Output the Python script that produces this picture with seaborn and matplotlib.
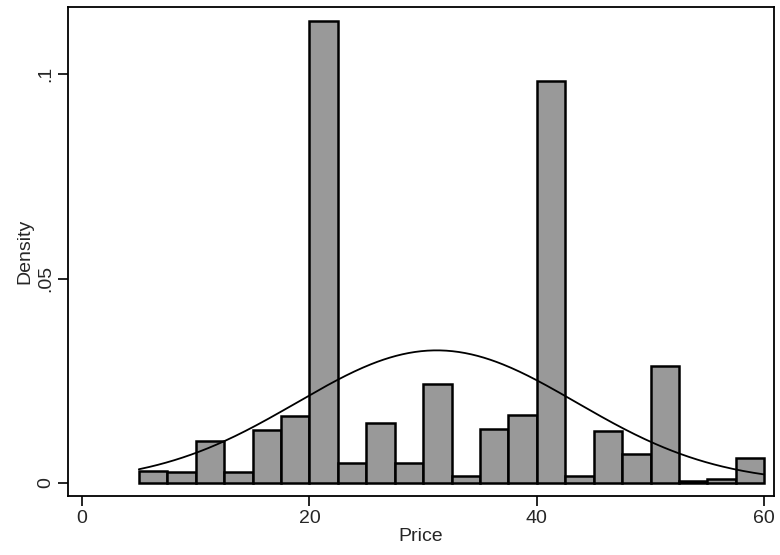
import numpy as np
import pandas as pd
import matplotlib
matplotlib.use("Agg")
import matplotlib.pyplot as plt
import seaborn as sns

# Histogram: bin edges and bar heights (density)
bin_edges = [5.0, 7.5, 10.0, 12.5, 15.0, 17.5, 20.0, 22.5, 25.0, 27.5, 30.0,
             32.5, 35.0, 37.5, 40.0, 42.5, 45.0, 47.5, 50.0, 52.5, 55.0, 57.5, 60.0]
density = [0.0029, 0.0027, 0.0103, 0.0027, 0.0130, 0.0164, 0.1130, 0.0049,
           0.0147, 0.0049, 0.0242, 0.0017, 0.0132, 0.0166, 0.0983, 0.0017,
           0.0127, 0.0071, 0.0286, 0.0005, 0.0010, 0.0061]
# Fitted normal curve parameters
norm_mean = 31.2
norm_sd = 12.3
curve_range = [5.0, 60.0]

x_ticks = [0, 20, 40, 60]
x_ticklabels = ["0", "20", "40", "60"]
y_ticks = [0, 0.05, 0.1]
y_ticklabels = ["0", ".05", ".1"]

sns.set_style("white")
plt.rcParams["font.family"] = ["Liberation Sans", "DejaVu Sans"]

fig = plt.figure(figsize=(7.8, 5.55), dpi=100)
ax = fig.add_axes([68/780, 59/555, (774-68)/780, (496-7)/555])

edges = np.array(bin_edges)
centers = (edges[:-1] + edges[1:]) / 2
df = pd.DataFrame({"Price": centers, "w": density})
sns.histplot(data=df, x="Price", weights="w", bins=bin_edges, stat="count",
             color="#999999", alpha=1.0, edgecolor="black", linewidth=1.8, ax=ax)

xs = np.linspace(curve_range[0], curve_range[1], 300)
ys = np.exp(-0.5 * ((xs - norm_mean) / norm_sd) ** 2) / (norm_sd * np.sqrt(2 * np.pi))
sns.lineplot(x=xs, y=ys, color="black", linewidth=1.3, ax=ax)

ax.set_xlim(-1.23, 60.86)
ax.set_ylim(-0.00318, 0.1164)
ax.set_xticks(x_ticks)
ax.set_xticklabels(x_ticklabels, fontsize=14)
ax.set_yticks(y_ticks)
ax.set_yticklabels(y_ticklabels, fontsize=14, rotation=90, va="center")
ax.tick_params(axis="both", direction="out", length=7, width=1.2, color="black",
               bottom=True, left=True, pad=3)
ax.set_xlabel("Price", fontsize=14, labelpad=1)
ax.set_ylabel("Density", fontsize=14, labelpad=3)
for s in ax.spines.values():
    s.set_visible(True)
    s.set_color("black")
    s.set_linewidth(1.3)
ax.grid(False)

fig.savefig("out.png", dpi=100, facecolor="white")
